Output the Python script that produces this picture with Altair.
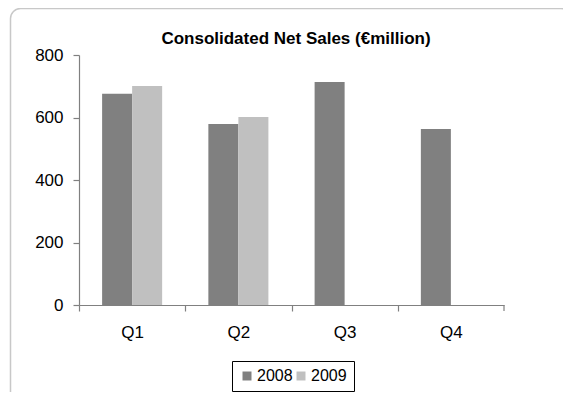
import altair as alt
import pandas as pd

quarters = ["Q1", "Q2", "Q3", "Q4"]
years = ["2008", "2009"]
sales_2008 = [676, 579, 714, 563]
sales_2009 = [701, 602, None, None]
y_ticks = [0, 200, 400, 600, 800]
title_text = "Consolidated Net Sales (€million)"

rows = []
for q, a, b in zip(quarters, sales_2008, sales_2009):
    rows.append({"quarter": q, "year": "2008", "sales": a})
    if b is not None:
        rows.append({"quarter": q, "year": "2009", "sales": b})
df = pd.DataFrame(rows)

FONT = "Arial, Liberation Sans, sans-serif"
STEP = 425 / 4

bars = alt.Chart(df).mark_bar().encode(
    x=alt.X("quarter:N", sort=quarters, title=None,
            scale=alt.Scale(paddingInner=0.435, paddingOuter=0.2175),
            axis=alt.Axis(labelAngle=0, tickSize=6, tickOffset=-STEP / 2,
                          labelOffset=STEP / 2,
                          labelPadding=13, labelFontSize=17, labelColor="#000000",
                          domainColor="#808080", tickColor="#808080",
                          labelFont=FONT, domainWidth=1.2, tickWidth=1.2)),
    xOffset=alt.XOffset("year:N", scale=alt.Scale(domain=years)),
    y=alt.Y("sales:Q", title=None,
            scale=alt.Scale(domain=[0, 800], nice=False),
            axis=alt.Axis(values=y_ticks, grid=False, tickSize=6, labelPadding=10,
                          labelFontSize=17, labelColor="#000000",
                          domainColor="#808080", tickColor="#808080",
                          labelFont=FONT, domainWidth=1.2, tickWidth=1.2)),
    color=alt.Color("year:N",
                    scale=alt.Scale(domain=years, range=["#808080", "#C0C0C0"]),
                    legend=alt.Legend(title=None, orient="none", direction="horizontal",
                                      legendX=153, legendY=306,
                                      symbolType="square", symbolSize=81,
                                      symbolStrokeWidth=0, symbolOpacity=1,
                                      labelFontSize=16, labelFont=FONT, labelColor="#000000",
                                      strokeColor="#000000", padding=7,
                                      columnPadding=0, labelOffset=2)),
)

end_tick = alt.Chart(pd.DataFrame({"a": [0]})).mark_rule(
    color="#808080", strokeWidth=1.2
).encode(x=alt.value(425), y=alt.value(250), y2=alt.value(256))

title = alt.Chart(pd.DataFrame({"t": [title_text]})).mark_text(
    font=FONT, fontSize=17, fontWeight="bold", color="#000000",
    align="center", baseline="alphabetic"
).encode(text="t:N", x=alt.value(217), y=alt.value(-11.5))

frame = alt.Chart(pd.DataFrame({"a": [0]})).mark_rect(
    fill=None, stroke="#C8C8C8", strokeWidth=1.5, cornerRadius=10, clip=False
).encode(
    x=alt.value(-68.5), x2=alt.value(492),
    y=alt.value(-46.5), y2=alt.value(350),
)

chart = alt.layer(frame, bars, end_tick, title).properties(
    width=425, height=250,
    background="white",
    autosize=alt.AutoSizeParams(type="none"),
    padding={"left": 71, "top": 47, "right": 59, "bottom": 87},
).configure_view(strokeWidth=0)

chart.save("out.html", embed_options={"renderer": "svg", "actions": False})
